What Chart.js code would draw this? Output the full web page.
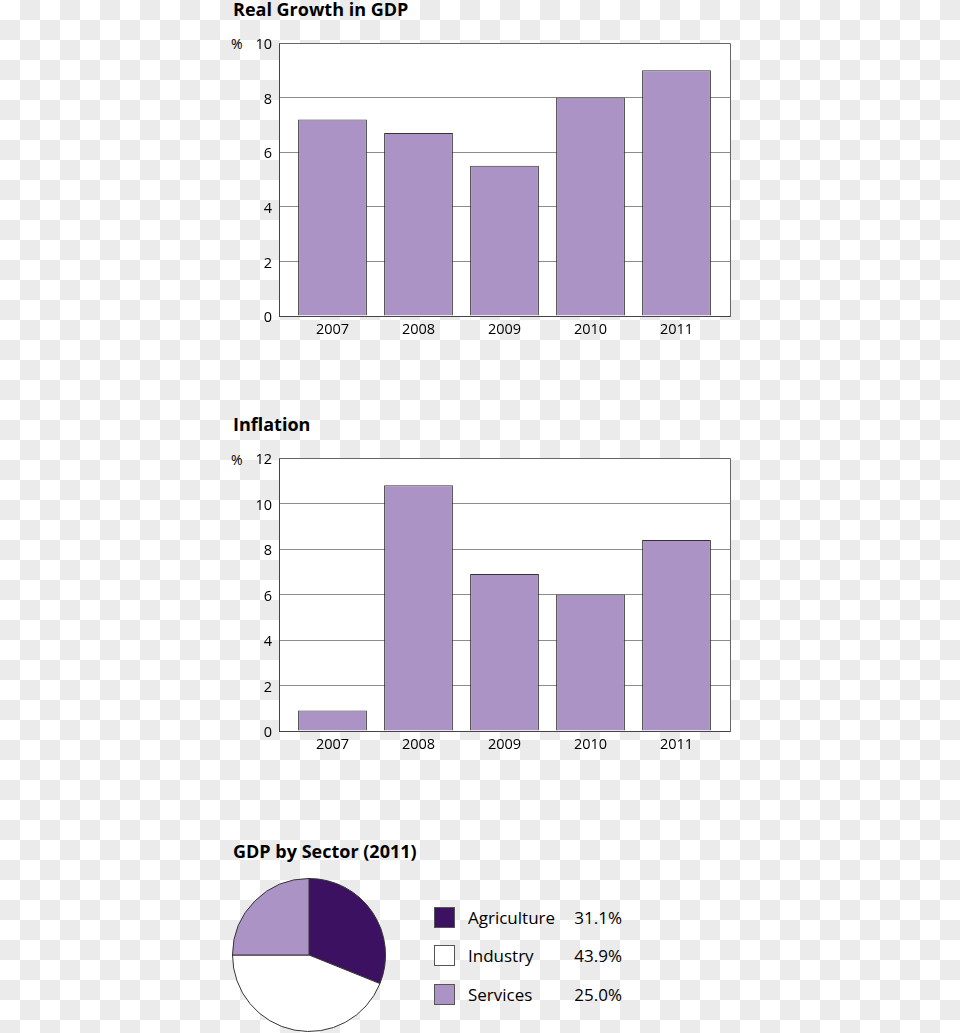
<!DOCTYPE html>
<html>
<head>
<meta charset="utf-8">
<script src="https://cdn.jsdelivr.net/npm/chart.js@4"></script>
<style>
  html, body { margin: 0; padding: 0; }
  body {
    width: 960px; height: 1033px; position: relative; overflow: hidden;
    background-color: #fff;
    background-image: conic-gradient(#ebebeb 0 25%, #fff 0 50%, #ebebeb 0 75%, #fff 0);
    background-size: 40px 40px;
    font-family: "Open Sans", sans-serif; color: #000;
  }
  .title { position: absolute; left: 233px; font-size: 18px; font-weight: bold; line-height: 18px; white-space: nowrap; }
  .pct { position: absolute; left: 231px; font-size: 14px; line-height: 14px; }
  canvas { position: absolute; }
  .legrow { position: absolute; left: 434px; height: 21px; width: 190px; display: flex; align-items: center; font-size: 17px; }
  .legbox { width: 19px; height: 19px; border: 1px solid #555; flex: none; }
  .legname { margin-left: 13px; flex: 1; }
  .legval { text-align: right; width: 70px; margin-right: 2px; }
</style>
</head>
<body>
<div class="title" style="top:0px">Real Growth in GDP</div>
<div class="pct" style="top:37px">%</div>
<canvas id="c1" width="520" height="320" style="left:220px; top:30px"></canvas>

<div class="title" style="top:415px">Inflation</div>
<div class="pct" style="top:453px">%</div>
<canvas id="c2" width="520" height="320" style="left:220px; top:445px"></canvas>

<div class="title" style="top:842px">GDP by Sector (2011)</div>
<canvas id="c3" width="154" height="154" style="left:232px; top:878px"></canvas>
<div id="legend"></div>

<script>
const years = ['2007', '2008', '2009', '2010', '2011'];
const gdpGrowth = [7.2, 6.7, 5.5, 8.0, 9.0];
const inflation = [0.9, 10.8, 6.9, 6.0, 8.4];
const gdpMax = 10;
const inflationMax = 12;
const tickStep = 2;
const sectors = ['Agriculture', 'Industry', 'Services'];
const sectorShares = [31.1, 43.9, 25.0];

const barColor = '#ab93c6';
const sectorColors = ['#3c1161', '#ffffff', '#ab93c6'];
const fontFamily = '"Open Sans", sans-serif';
const xPad = 0.622; // category-axis end margin (in category units)

const framePlugin = {
  id: 'frame',
  beforeDraw(chart) {
    const a = chart.chartArea, ctx = chart.ctx;
    ctx.save();
    ctx.fillStyle = '#ffffff';
    ctx.fillRect(a.left, a.top, a.right - a.left, a.bottom - a.top);
    ctx.restore();
  },
  afterDraw(chart) {
    const a = chart.chartArea, ctx = chart.ctx;
    ctx.save();
    ctx.strokeStyle = '#666';
    ctx.lineWidth = 1;
    ctx.beginPath();
    const r = Math.round(a.right) + 0.5, t = Math.round(a.top) + 0.5;
    ctx.moveTo(Math.round(a.left), t);
    ctx.lineTo(r, t);
    ctx.lineTo(r, Math.round(a.bottom) + 1);
    ctx.stroke();
    ctx.restore();
  }
};

function barChart(id, values, maxVal) {
  new Chart(document.getElementById(id), {
    type: 'bar',
    data: {
      datasets: [{
        data: values.map((v, i) => ({ x: i, y: v })),
        backgroundColor: barColor,
        borderColor: '#333',
        borderWidth: 1,
        categoryPercentage: 1,
        barPercentage: 0.8
      }]
    },
    options: {
      responsive: false,
      animation: false,
      events: [],
      layout: { padding: { left: 0, top: 13, right: 10, bottom: 0 } },
      plugins: { legend: { display: false }, tooltip: { enabled: false } },
      scales: {
        x: {
          type: 'linear',
          offset: false,
          min: -xPad, max: years.length - 1 + xPad,
          grid: { display: true, drawOnChartArea: false, drawTicks: false, offset: false },
          border: { color: '#444', width: 1 },
          ticks: {
            color: '#000', padding: 5, maxRotation: 0, autoSkip: false,
            font: { family: fontFamily, size: 14.5 },
            callback: (v) => years[v]
          },
          afterBuildTicks(s) { s.ticks = years.map((_, i) => ({ value: i })); },
          afterFit(s) { s.height = 34; s.paddingLeft = 0; s.paddingRight = 0; }
        },
        y: {
          min: 0, max: maxVal,
          grid: { color: '#8c8c8c', drawTicks: false, lineWidth: 1 },
          border: { color: '#444', width: 1 },
          ticks: { stepSize: tickStep, color: '#000', padding: 7, labelOffset: 2, font: { family: fontFamily, size: 14.5 } },
          afterFit(s) { s.width = 59; s.paddingTop = 0; s.paddingBottom = 0; }
        }
      }
    },
    plugins: [framePlugin]
  });
}

barChart('c1', gdpGrowth, gdpMax);
barChart('c2', inflation, inflationMax);

new Chart(document.getElementById('c3'), {
  type: 'pie',
  data: {
    labels: sectors,
    datasets: [{
      data: sectorShares,
      backgroundColor: sectorColors,
      borderColor: '#333',
      borderWidth: 1
    }]
  },
  options: {
    responsive: false,
    animation: false,
    events: [],
    layout: { padding: 0 },
    plugins: { legend: { display: false }, tooltip: { enabled: false } }
  }
});

const legend = document.getElementById('legend');
const rowTops = [907, 945, 984];
sectors.forEach((name, i) => {
  const row = document.createElement('div');
  row.className = 'legrow';
  row.style.top = rowTops[i] + 'px';
  row.innerHTML = '<div class="legbox" style="background:' + sectorColors[i] + '"></div>' +
    '<div class="legname">' + name + '</div>' +
    '<div class="legval">' + sectorShares[i].toFixed(1) + '%</div>';
  legend.appendChild(row);
});
</script>
</body>
</html>
